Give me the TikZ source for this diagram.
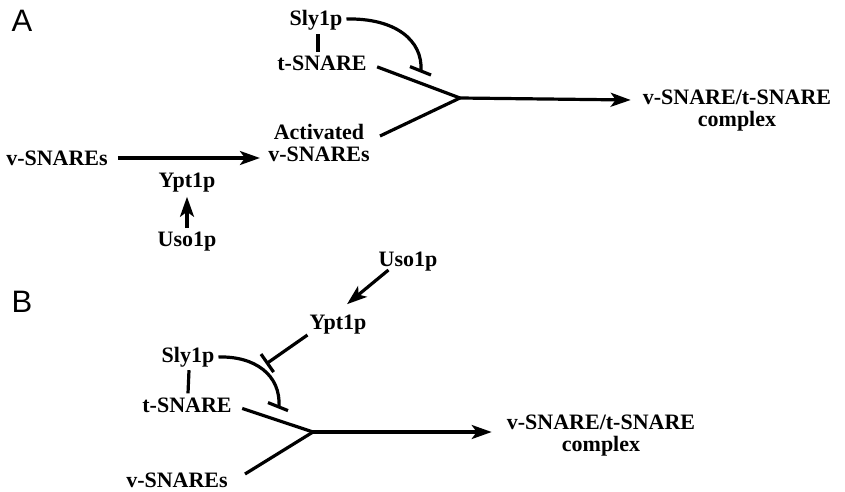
\documentclass[tikz,border=0pt]{standalone}
\usepackage{fontspec}
\setmainfont{Liberation Serif}
\newfontfamily\labfont{Liberation Sans}
\usetikzlibrary{arrows.meta,calc}
\tikzset{
  lbl/.style={font=\fontsize{22}{22}\selectfont\bfseries, inner sep=0pt, align=center},
  panel/.style={font=\labfont\fontsize{31}{31}\selectfont, inner sep=0pt},
  ln/.style={line width=3.2pt},
  act/.style={ln, -{Stealth[length=20pt,width=14pt,inset=5pt]}},
  inh/.style={ln, -{Bar[width=22pt,line width=3.2pt]}},
}
\begin{document}
\begin{tikzpicture}[x=1pt,y=-1pt]
\useasboundingbox (0,0) rectangle (845,492);
% Panel A
\node[panel] (pA) at (22,21) {A};
\node[lbl] (slyA) at (316,20) {Sly1p};
\node[lbl] (tA) at (322,63) {t-SNARE};
\node[lbl] (actA) at (319,143) {Activated\\v-SNAREs};
\node[lbl] (vA) at (57,158) {v-SNAREs};
\node[lbl] (yA) at (187,183) {Ypt1p};
\node[lbl] (uA) at (187,242) {Uso1p};
\node[lbl] (cA) at (737,111) {v-SNARE/t-SNARE\\complex};
\coordinate (jA) at (460,98);
\draw[ln] ($(slyA.south)+(2,4)$) -- ($(tA.north)+(-4,-3)$);
\draw[ln, shorten <=11pt] (tA.east) -- (jA);
\draw[ln] (380,136) coordinate (aS) (aS) -- (jA);
\draw[act] (jA) -- ($(cA.west)+(-12,-11)$);
\draw[act, shorten <=10pt] (vA.east) -- ++(152,0) coordinate (vAe);
\draw[act] ($(uA.north)+(0,-4)$) -- ($(yA.south)+(0,4)$);
\coordinate (barA) at (421,71);
\draw[ln] ($(slyA.east)+(4,-1)$) .. controls (395,18) and (423,40) .. (barA);
\draw[ln] ($(barA)+(-11,-4.4)$) -- ($(barA)+(10,4)$);
% Panel B
\node[panel] (pB) at (22,302) {B};
\node[lbl] (uB) at (408,262) {Uso1p};
\node[lbl] (yB) at (338,325) {Ypt1p};
\node[lbl] (slyB) at (188,357) {Sly1p};
\node[lbl] (tB) at (187,405) {t-SNARE};
\node[lbl] (vB) at (177,480) {v-SNAREs};
\node[lbl] (cB) at (601,436) {v-SNARE/t-SNARE\\complex};
\coordinate (jB) at (313,432);
\draw[act] ($(uB.west)+(10,8)$) -- ($(yB.north)+(9,-11)$);
\draw[inh] ($(yB.west)+(-2,10)$) -- (266,364);
\draw[ln] ($(slyB.south)+(1,3)$) -- ($(tB.north)+(1,-4)$);
\coordinate (barB) at (279,407);
\draw[ln] ($(slyB.east)+(4,0)$) .. controls (255,356) and (281,375) .. (barB);
\draw[ln] ($(barB)+(-11,-4.4)$) -- ($(barB)+(9,3.6)$);
\draw[ln, shorten <=11pt] (tB.east) -- (jB);
\draw[ln] (245,474) coordinate (vBs) (vBs) -- (jB);
\draw[act] (jB) -- ($(cB.west)+(-15,-4)$);
\end{tikzpicture}
\end{document}
